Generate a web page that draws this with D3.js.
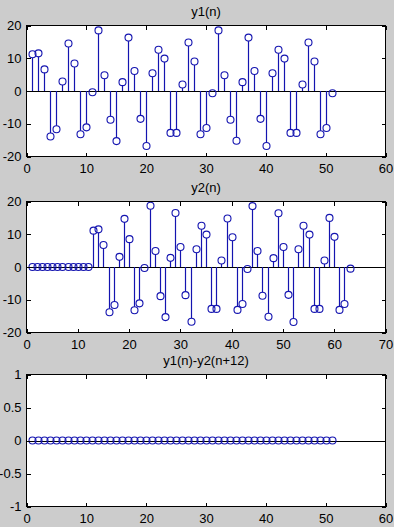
<!DOCTYPE html>
<html>
<head>
<meta charset="utf-8">
<title>stem</title>
<style>
body { margin: 0; background: #cccccc; }
svg { display: block; }
.axis text { font: 13px "Liberation Sans", Arial, sans-serif; fill: #000; }
.axis path { display: none; }
.axis line { stroke: #000; shape-rendering: crispEdges; }
.title { font: 13px "Liberation Sans", Arial, sans-serif; fill: #000; text-anchor: middle; }
</style>
</head>
<body>
<script src="https://cdn.jsdelivr.net/npm/d3@7"></script>
<script>

// y1(n), n = 1..51
var y1 = [11.2, 11.5, 6.6, -13.9, -11.7, 2.9, 14.5, 8.4, -13.2, -11.1,
  -0.4, 18.5, 4.8, -8.8, -15.3, 2.7, 16.3, 6.1, -8.5, -16.8,
  5.4, 12.6, 9.9, -12.8, -12.8, 2.0, 14.8, 9.0, -13.2, -11.3,
  -0.7, 18.5, 4.8, -8.8, -15.2, 2.7, 16.3, 6.1, -8.5, -16.8,
  5.4, 12.6, 9.9, -12.8, -12.8, 2.0, 14.8, 9.0, -13.2, -11.3, -0.7];

// y2(n), n = 1..63 (twelve zeros, then the signal)
var y2 = [0, 0, 0, 0, 0, 0, 0, 0, 0, 0, 0, 0,
  11.1, 11.5, 6.7, -13.8, -11.6, 3.1, 14.7, 8.5, -13.2, -11.1,
  -0.3, 18.7, 4.9, -8.9, -15.3, 2.8, 16.5, 6.1, -8.6, -16.7,
  5.4, 12.6, 9.9, -12.8, -12.8, 2.0, 14.8, 9.1, -13.1, -11.3,
  -0.6, 18.6, 4.9, -8.8, -15.2, 2.7, 16.4, 6.1, -8.5, -16.8,
  5.4, 12.6, 9.9, -12.8, -12.8, 2.0, 15.0, 9.2, -13.1, -11.3, -0.5];

// y1(n)-y2(n+12), n = 1..51
var yd = [0, 0, 0, 0, 0, 0, 0, 0, 0, 0, 0, 0, 0, 0, 0, 0, 0, 0, 0, 0,
  0, 0, 0, 0, 0, 0, 0, 0, 0, 0, 0, 0, 0, 0, 0, 0, 0, 0, 0, 0,
  0, 0, 0, 0, 0, 0, 0, 0, 0, 0, 0];

var titles = ["y1(n)", "y2(n)", "y1(n)-y2(n+12)"];
var xMax = [60, 70, 60];
var yTicks = [[-20, -10, 0, 10, 20], [-20, -10, 0, 10, 20], [-1, -0.5, 0, 0.5, 1]];
var series = [y1, y2, yd];

var width = 394, height = 527;
var left = 26.5, right = 385.5;
var tops = [25.5, 201.5, 374.5], bottoms = [156.5, 332.5, 506.5];
var stemColor = "#1414b0";
var r = 3.5;

var svg = d3.select("body").append("svg")
    .attr("width", width)
    .attr("height", height);

svg.append("rect").attr("width", width).attr("height", height).attr("fill", "#cccccc");

series.forEach(function(data, i) {
  var yDom = d3.extent(yTicks[i]);
  var x = d3.scaleLinear().domain([0, xMax[i]]).range([left, right]);
  var y = d3.scaleLinear().domain(yDom).range([bottoms[i], tops[i]]);
  var xt = d3.range(0, xMax[i] + 1, 10);

  var g = svg.append("g");

  g.append("rect")
      .attr("x", left).attr("y", tops[i])
      .attr("width", right - left).attr("height", bottoms[i] - tops[i])
      .attr("fill", "#fff");

  // baseline
  g.append("line")
      .attr("x1", left).attr("x2", right)
      .attr("y1", Math.round(y(0)) + 0.5).attr("y2", Math.round(y(0)) + 0.5)
      .attr("stroke", "#000")
      .attr("shape-rendering", "crispEdges");

  var pts = data.map(function(v, k) { return {n: k + 1, v: v}; });

  // stems stop at the edge of the marker
  g.append("g").selectAll("line")
      .data(pts.filter(function(d) { return Math.abs(y(d.v) - y(0)) > r; }))
      .enter().append("line")
      .attr("x1", function(d) { return Math.round(x(d.n)) + 0.5; })
      .attr("x2", function(d) { return Math.round(x(d.n)) + 0.5; })
      .attr("y1", y(0))
      .attr("y2", function(d) { return d.v > 0 ? y(d.v) + r : y(d.v) - r; })
      .attr("stroke", stemColor)
      .attr("stroke-width", 1.2);

  g.append("g").selectAll("circle")
      .data(pts)
      .enter().append("circle")
      .attr("cx", function(d) { return Math.round(x(d.n)) + 0.5; })
      .attr("cy", function(d) { return y(d.v); })
      .attr("r", r)
      .attr("fill", "none")
      .attr("stroke", stemColor)
      .attr("stroke-width", 1.1);

  // frame
  g.append("rect")
      .attr("x", left).attr("y", tops[i])
      .attr("width", right - left).attr("height", bottoms[i] - tops[i])
      .attr("fill", "none").attr("stroke", "#000")
      .attr("shape-rendering", "crispEdges");

  g.append("g").attr("class", "axis")
      .attr("transform", "translate(0," + bottoms[i] + ")")
      .call(d3.axisBottom(x).tickValues(xt).tickSizeInner(-4).tickSizeOuter(0).tickPadding(7));
  g.append("g").attr("class", "axis")
      .attr("transform", "translate(0," + tops[i] + ")")
      .call(d3.axisTop(x).tickValues(xt).tickSizeInner(-4).tickSizeOuter(0).tickFormat(""));
  g.append("g").attr("class", "axis")
      .attr("transform", "translate(" + left + ",0)")
      .call(d3.axisLeft(y).tickValues(yTicks[i]).tickSizeInner(-4).tickSizeOuter(0).tickPadding(5)
        .tickFormat(function(d) { return String(d); }));
  g.append("g").attr("class", "axis")
      .attr("transform", "translate(" + right + ",0)")
      .call(d3.axisRight(y).tickValues(yTicks[i]).tickSizeInner(-4).tickSizeOuter(0).tickFormat(""));

  g.append("text")
      .attr("class", "title")
      .attr("x", (left + right) / 2)
      .attr("y", tops[i] - 10)
      .text(titles[i]);
});

</script>
</body>
</html>
